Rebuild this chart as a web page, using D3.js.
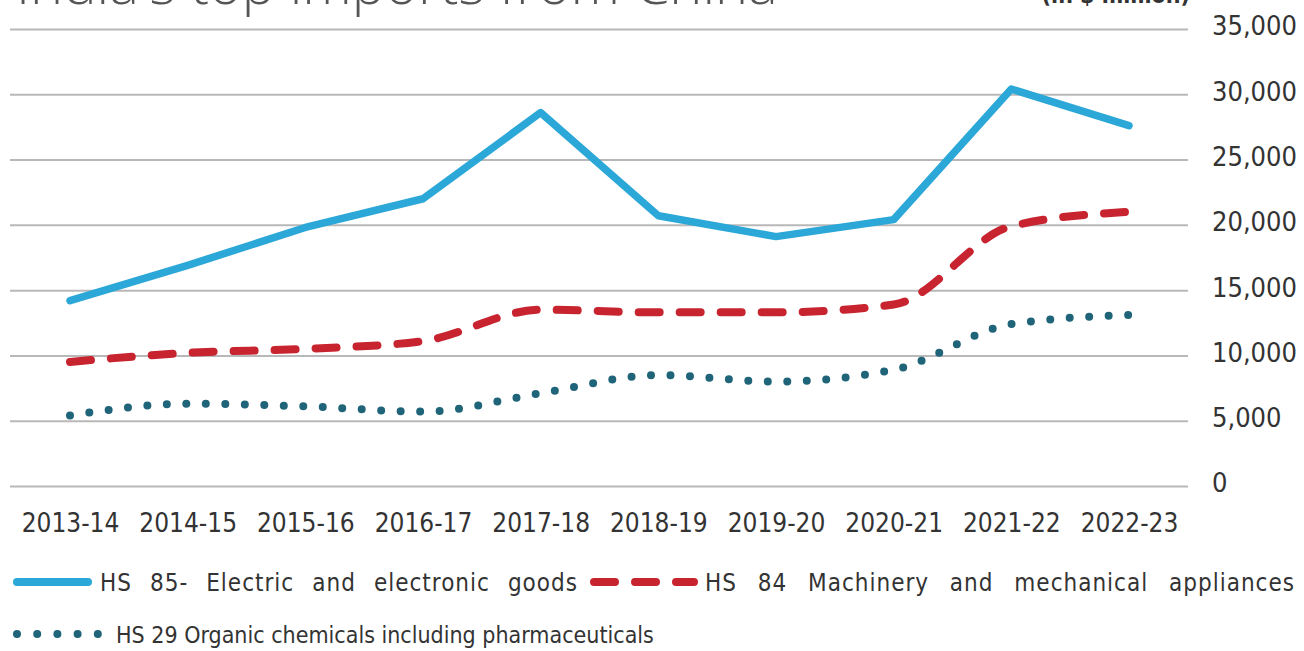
<!DOCTYPE html>
<html>
<head>
<meta charset="utf-8">
<script src="https://cdn.jsdelivr.net/npm/d3@7"></script>
<style>
    body { margin: 0; background: #fff; }
    svg { display: block; }
</style>
</head>
<body>
<svg id="chart" width="1304" height="651"></svg>
<script>
// values in $ million
const years = ['2013-14', '2014-15', '2015-16', '2016-17', '2017-18',
    '2018-19', '2019-20', '2020-21', '2021-22', '2022-23'];
const hs85 = [14200, 16900, 19800, 22000, 28600, 20700, 19100, 20400, 30400, 27600];
const hs84 = [9500, 10200, 10500, 11100, 13500, 13300, 13300, 13900, 19900, 21000];
const hs29 = [5400, 6300, 6100, 5700, 7100, 8500, 8000, 8900, 12400, 13100];
const yTicks = [0, 5000, 10000, 15000, 20000, 25000, 30000, 35000];

const title = "India's top imports from China";
const unit = '(in $ million)';
const legendNames = [
    'HS 85- Electric and electronic goods',
    'HS 84 Machinery and mechanical appliances',
    'HS 29 Organic chemicals including pharmaceuticals'
];

const blue = '#2ba7d8',
    red = '#c8242f',
    teal = '#1f6479',
    grid = '#b8b8b8',
    ink = '#333';

const labelFont = '"DejaVu Sans Condensed", "DejaVu Sans", sans-serif';

const svg = d3.select('#chart');

const x = d3.scalePoint().domain(years).range([70, 1129]);
const y = d3.scaleLinear().domain([0, 35000]).range([486, 29]);

// title, mostly cut off by the top edge like in the source image
svg.append('text')
    .attr('x', 16)
    .attr('y', 4)
    .attr('font-family', '"Open Sans", sans-serif')
    .attr('font-weight', 300)
    .attr('font-size', 56)
    .attr('fill', '#555')
    .text(title);

svg.append('text')
    .attr('x', 1190)
    .attr('y', 3)
    .attr('text-anchor', 'end')
    .attr('font-family', labelFont)
    .attr('font-weight', 'bold')
    .attr('font-size', 23)
    .attr('fill', ink)
    .text(unit);

// gridlines + right hand labels
const yAxis = d3.axisRight(y)
    .tickValues(yTicks)
    .tickSize(1178)
    .tickPadding(24)
    .tickFormat(d3.format(','));

svg.append('g')
    .attr('transform', 'translate(10,0)')
    .call(yAxis)
    .call(g => g.select('.domain').remove())
    .call(g => g.selectAll('line')
        .attr('stroke', grid)
        .attr('stroke-width', 2))
    .call(g => g.selectAll('text')
        .attr('dy', '0.22em')
        .attr('font-family', labelFont)
        .attr('font-size', 27)
        .attr('fill', ink));

// year labels
const xAxis = d3.axisBottom(x).tickSize(0).tickPadding(0);

svg.append('g')
    .attr('transform', 'translate(0,512)')
    .call(xAxis)
    .call(g => g.select('.domain').remove())
    .call(g => g.selectAll('text')
        .attr('dy', '0.76em')
        .attr('font-family', labelFont)
        .attr('font-size', 26)
        .attr('fill', ink));

const lineLinear = d3.line()
    .x((d, i) => x(years[i]))
    .y(d => y(d));

const lineSmooth = d3.line()
    .x((d, i) => x(years[i]))
    .y(d => y(d))
    .curve(d3.curveMonotoneX);

svg.append('path')
    .datum(hs29)
    .attr('d', lineSmooth)
    .attr('fill', 'none')
    .attr('stroke', teal)
    .attr('stroke-width', 8)
    .attr('stroke-linecap', 'round')
    .attr('stroke-dasharray', '0 19.5');

svg.append('path')
    .datum(hs84)
    .attr('d', lineSmooth)
    .attr('fill', 'none')
    .attr('stroke', red)
    .attr('stroke-width', 8)
    .attr('stroke-linecap', 'round')
    .attr('stroke-dasharray', '21 20');

svg.append('path')
    .datum(hs85)
    .attr('d', lineLinear)
    .attr('fill', 'none')
    .attr('stroke', blue)
    .attr('stroke-width', 7.5)
    .attr('stroke-linejoin', 'round')
    .attr('stroke-linecap', 'round');

// legend, first row is stretched to the full width
const legend = svg.append('g');

const legendItems = [
    { name: legendNames[0], color: blue, dash: null, x0: 17, x1: 88, y: 582, tx: 100, width: 478 },
    { name: legendNames[1], color: red, dash: '21 20', x0: 594, x1: 694, y: 582, tx: 705, width: 590 },
    { name: legendNames[2], color: teal, dash: '0 20.2', x0: 17, x1: 98, y: 634, tx: 116, width: null }
];

legendItems.forEach(item => {
    legend.append('line')
        .attr('x1', item.x0)
        .attr('x2', item.x1)
        .attr('y1', item.y)
        .attr('y2', item.y)
        .attr('stroke', item.color)
        .attr('stroke-width', 8)
        .attr('stroke-linecap', 'round')
        .attr('stroke-dasharray', item.dash);

    const label = legend.append('text')
        .attr('x', item.tx)
        .attr('y', item.y + 9)
        .attr('font-family', labelFont)
        .attr('font-size', item.width ? 24 : 23)
        .attr('fill', ink)
        .text(item.name);

    if (item.width) {
        label.attr('letter-spacing', 1);
        const spaces = item.name.split(' ').length - 1;
        const extra = item.width - label.node().getComputedTextLength();
        label.attr('word-spacing', Math.max(0, extra / spaces));
    }
});
</script>
</body>
</html>
